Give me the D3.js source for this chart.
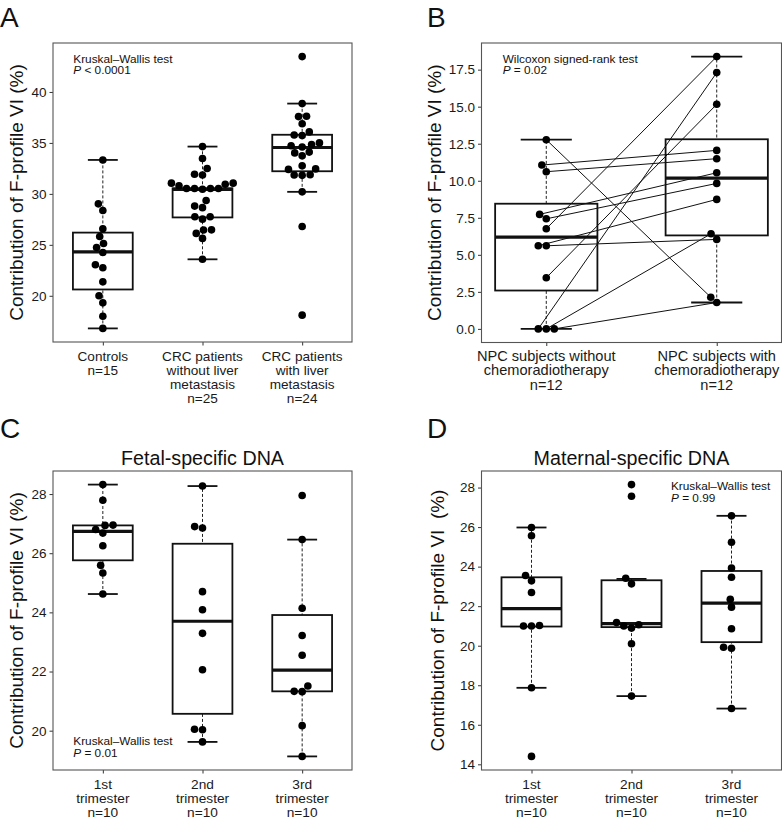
<!DOCTYPE html>
<html>
<head>
<meta charset="utf-8">
<script src="https://cdn.jsdelivr.net/npm/d3@7"></script>
<style>
  body { margin: 0; background: #fff; }
  svg { font-family: 'Liberation Sans', Arial, sans-serif; }
</style>
</head>
<body>
<div id="chart"></div>
<script>
const chartWidth = 782
const chartHeight = 817

// ---- Panel A: CRC ----
const catsA = [
  ['Controls', 'n=15'],
  ['CRC patients', 'without liver', 'metastasis', 'n=25'],
  ['CRC patients', 'with liver', 'metastasis', 'n=24'],
]
const controlsA = [33.33, 29.02, 28.37, 26.57, 25.82, 25.13, 24.74, 24.25, 23.04, 22.75, 21.37, 20.0, 19.31, 18.0, 16.8]
const crcNoMetA = [34.64, 33.47, 32.49, 31.93, 31.85, 31.05, 31.05, 30.95, 30.8, 30.53, 30.53, 30.53, 30.53, 30.46,
  29.35, 28.8, 28.65, 27.75, 27.75, 27.52, 26.47, 26.45, 26.12, 25.63, 23.58]
const crcMetA = [43.47, 38.86, 37.62, 37.58, 36.88, 36.08, 35.78, 35.72, 35.0, 34.85, 34.72, 34.6, 34.1, 34.02,
  33.73, 32.75, 32.45, 32.4, 31.88, 31.85, 31.82, 30.2, 26.8, 18.1]
// box stats: [lower whisker, Q1, median, Q3, upper whisker]
const boxA = [
  [16.8, 20.62, 24.3, 26.2, 33.33],
  [23.58, 27.69, 30.45, 30.55, 34.64],
  [30.2, 32.22, 34.55, 35.8, 38.86],
]
const ticksA = [20, 25, 30, 35, 40]

// ---- Panel B: NPC, paired subjects ----
const catsB = [
  ['NPC subjects without', 'chemoradiotherapy', 'n=12'],
  ['NPC subjects with', 'chemoradiotherapy', 'n=12'],
]
const npcWithoutB = [12.77, 11.06, 10.61, 7.73, 7.43, 6.76, 5.61, 5.61, 3.45, 0, 0, 0]
const npcWithB = [2.14, 12.05, 11.49, 10.54, 9.82, 18.38, 6.04, 8.74, 15.16, 6.42, 17.3, 1.78]
const boxB = [
  [0, 2.59, 6.2, 8.45, 12.77],
  [1.78, 6.31, 10.18, 12.8, 18.38],
]
const ticksB = [0, 2.5, 5, 7.5, 10, 12.5, 15, 17.5]

// ---- Panel C: fetal-specific DNA ----
const catsTri = [
  ['1st', 'trimester', 'n=10'],
  ['2nd', 'trimester', 'n=10'],
  ['3rd', 'trimester', 'n=10'],
]
const fetal1 = [28.32, 27.79, 26.95, 26.94, 26.8, 26.68, 26.25, 25.59, 25.33, 24.62]
const fetal2 = [28.27, 26.9, 26.85, 24.7, 24.09, 23.29, 22.06, 20.05, 20.03, 19.62]
const fetal3 = [27.95, 26.46, 24.14, 23.22, 22.55, 21.51, 21.33, 21.32, 20.17, 19.13]
const boxC = [
  [24.62, 25.76, 26.74, 26.94, 28.32],
  [19.62, 20.57, 23.7, 26.32, 28.27],
  [19.13, 21.33, 22.05, 23.91, 26.46],
]
const ticksC = [20, 22, 24, 26, 28]

// ---- Panel D: maternal-specific DNA ----
const maternal1 = [25.98, 25.56, 23.55, 23.28, 22.69, 21.0, 21.0, 21.02, 17.87, 14.4]
const maternal2 = [28.15, 27.56, 23.41, 23.13, 21.17, 21.06, 21.0, 20.89, 20.1, 17.45]
const maternal3 = [26.57, 25.23, 23.93, 23.46, 22.35, 21.95, 20.86, 19.92, 19.87, 16.82]
const boxD = [
  [17.87, 20.97, 21.88, 23.46, 25.98],
  [17.45, 20.94, 21.12, 23.31, 23.38],
  [16.82, 20.18, 22.15, 23.78, 26.57],
]
const ticksD = [14, 16, 18, 20, 22, 24, 26, 28]

const yTitle = 'Contribution of F-profile VI (%)'
const dotR = 3.8
const swarmGap = 8

const svg = d3
  .select('#chart')
  .append('svg')
  .attr('width', chartWidth)
  .attr('height', chartHeight)

// beeswarm: 由小到大依序放點, 找離中心最近且不重疊的位置
function swarm(vals, y) {
  const order = d3.range(vals.length).sort((a, b) => vals[a] - vals[b] || a - b)
  const placed = []
  const xs = []
  order.forEach(i => {
    const yi = y(vals[i])
    const near = placed.filter(p => Math.abs(p.y - yi) < swarmGap)
    const cands = [0]
    near.forEach(p => {
      const off = Math.sqrt(swarmGap * swarmGap - (p.y - yi) ** 2)
      cands.push(p.x + off, p.x - off)
    })
    const ok = cands.filter(c => near.every(p => (c - p.x) ** 2 + (yi - p.y) ** 2 >= swarmGap * swarmGap * 0.999))
    ok.sort((a, b) => Math.round(Math.abs(a) * 1000) - Math.round(Math.abs(b) * 1000) || a - b)
    xs[i] = ok[0]
    placed.push({ x: ok[0], y: yi })
  })
  return xs
}

function drawPanel(p) {
  const g = svg.append('g')
  const all = p.groups.flat()
  const [lo, hi] = d3.extent(all)
  const pad = (hi - lo) * 0.05
  const y = d3.scaleLinear().domain([lo - pad, hi + pad]).range([p.bottom, p.top])
  const x = d3
    .scalePoint()
    .domain(d3.range(p.cats.length))
    .range([p.left, p.right])
    .padding(p.padding)
  const step = x.step()

  // y axis
  g.append('g')
    .attr('transform', `translate(${p.left},0)`)
    .call(d3.axisLeft(y).tickValues(p.ticks).tickSize(3.5).tickPadding(3).tickFormat(p.fmt || d3.format('d')))
    .call(a => a.select('.domain').remove())
    .call(a => a.selectAll('line').attr('stroke', '#333'))
    .call(a => a.selectAll('text').attr('fill', '#1a1a1a').style('font-size', '13.5px').attr('font-family', null))

  // x axis (ticks only, labels drawn below)
  g.append('g')
    .attr('transform', `translate(0,${p.bottom})`)
    .call(d3.axisBottom(x).tickSize(3.5).tickFormat(''))
    .call(a => a.select('.domain').remove())
    .call(a => a.selectAll('line').attr('stroke', '#333'))

  p.cats.forEach((lines, i) => {
    const t = g
      .append('text')
      .attr('x', x(i))
      .attr('y', p.bottom + 18.5)
      .attr('text-anchor', 'middle')
      .attr('fill', '#1a1a1a')
      .style('font-size', p.catSize + 'px')
    lines.forEach((s, j) => {
      t.append('tspan').attr('x', x(i)).attr('dy', j === 0 ? 0 : p.lineH).text(s)
    })
  })

  // frame
  g.append('rect')
    .attr('x', p.left)
    .attr('y', p.top)
    .attr('width', p.right - p.left)
    .attr('height', p.bottom - p.top)
    .attr('fill', 'none')
    .attr('stroke', '#555')
    .attr('stroke-width', 1.1)

  // whiskers + caps
  p.box.forEach((b, i) => {
    g.append('line')
      .attr('x1', x(i)).attr('x2', x(i))
      .attr('y1', y(b[0])).attr('y2', y(b[4]))
      .attr('stroke', '#222')
      .attr('stroke-width', 1)
      .attr('stroke-dasharray', '3,2')
    ;[b[0], b[4]].forEach(v => {
      g.append('line')
        .attr('x1', x(i) - step * 0.15).attr('x2', x(i) + step * 0.15)
        .attr('y1', y(v)).attr('y2', y(v))
        .attr('stroke', '#111')
        .attr('stroke-width', 1.8)
    })
    g.append('rect')
      .attr('x', x(i) - step * 0.3)
      .attr('width', step * 0.6)
      .attr('y', y(b[3]))
      .attr('height', y(b[1]) - y(b[3]))
      .attr('fill', '#fff')
      .attr('stroke', '#111')
      .attr('stroke-width', 1.8)
    g.append('line')
      .attr('x1', x(i) - step * 0.3).attr('x2', x(i) + step * 0.3)
      .attr('y1', y(b[2])).attr('y2', y(b[2]))
      .attr('stroke', '#111')
      .attr('stroke-width', 3.2)
  })

  // points
  const pos = p.groups.map((vals, i) => {
    const off = swarm(vals, y)
    return vals.map((v, k) => [x(i) + off[k], y(v)])
  })

  // 配對連線 (panel B)
  if (p.paired) {
    pos[0].forEach((a, k) => {
      const b = pos[1][k]
      g.append('line')
        .attr('x1', a[0]).attr('y1', a[1])
        .attr('x2', b[0]).attr('y2', b[1])
        .attr('stroke', '#111')
        .attr('stroke-width', 1)
    })
  }

  pos.flat().forEach(d => {
    g.append('circle').attr('cx', d[0]).attr('cy', d[1]).attr('r', dotR).attr('fill', '#000')
  })

  // y title
  g.append('text')
    .attr('transform', `translate(${p.titleX},${(p.top + p.bottom) / 2}) rotate(-90)`)
    .attr('text-anchor', 'middle')
    .attr('fill', '#111')
    .style('font-size', '19px')
    .style('white-space', 'pre')
    .text(p.yTitle || yTitle)

  // test annotation
  const ann = g
    .append('text')
    .attr('x', p.annX)
    .attr('y', p.annY)
    .attr('fill', '#111')
    .style('font-size', '11.8px')
  ann.append('tspan').text(p.test)
  const pl = ann.append('tspan').attr('x', p.annX).attr('dy', 11.5)
  pl.append('tspan').style('font-style', 'italic').text('P')
  pl.append('tspan').text(p.pval)

  if (p.title) {
    g.append('text')
      .attr('x', (p.left + p.right) / 2)
      .attr('y', p.top - 6)
      .attr('text-anchor', 'middle')
      .attr('fill', '#111')
      .style('font-size', '19.7px')
      .text(p.title)
  }

  g.append('text')
    .attr('x', p.letterX)
    .attr('y', p.letterY)
    .attr('fill', '#111')
    .style('font-size', '28px')
    .text(p.letter)
}

drawPanel({
  letter: 'A', letterX: 0, letterY: 26.5,
  left: 53, right: 352, top: 43, bottom: 342, padding: 0.5,
  cats: catsA, catSize: 13.6, lineH: 14.1,
  groups: [controlsA, crcNoMetA, crcMetA], box: boxA, ticks: ticksA,
  titleX: 23, annX: 73.3, annY: 62.7,
  test: 'Kruskal–Wallis test', pval: ' < 0.0001',
})

drawPanel({
  letter: 'B', letterX: 427, letterY: 26.5,
  left: 481.5, right: 781.5, top: 43, bottom: 342.5, padding: 0.38,
  cats: catsB, catSize: 14.6, lineH: 14.4,
  groups: [npcWithoutB, npcWithB], box: boxB, ticks: ticksB, fmt: d3.format('.1f'),
  paired: true,
  titleX: 441, annX: 502.7, annY: 62.7,
  test: 'Wilcoxon signed-rank test', pval: ' = 0.02',
})

drawPanel({
  letter: 'C', letterX: 0, letterY: 438,
  left: 53, right: 352, top: 471, bottom: 770, padding: 0.5,
  cats: catsTri, catSize: 13.7, lineH: 14.2,
  groups: [fetal1, fetal2, fetal3], box: boxC, ticks: ticksC,
  title: 'Fetal-specific DNA',
  titleX: 23, annX: 73.3, annY: 745,
  test: 'Kruskal–Wallis test', pval: ' = 0.01',
})

drawPanel({
  letter: 'D', letterX: 427, letterY: 438,
  left: 481.5, right: 781.5, top: 471, bottom: 770, padding: 0.5,
  cats: catsTri, catSize: 13.7, lineH: 14.2,
  groups: [maternal1, maternal2, maternal3], box: boxD, ticks: ticksD,
  title: 'Maternal-specific DNA',
  yTitle: 'Contribution of F-profile VI  (%)',
  titleX: 444, annX: 671, annY: 490,
  test: 'Kruskal–Wallis test', pval: ' = 0.99',
})
</script>
</body>
</html>
